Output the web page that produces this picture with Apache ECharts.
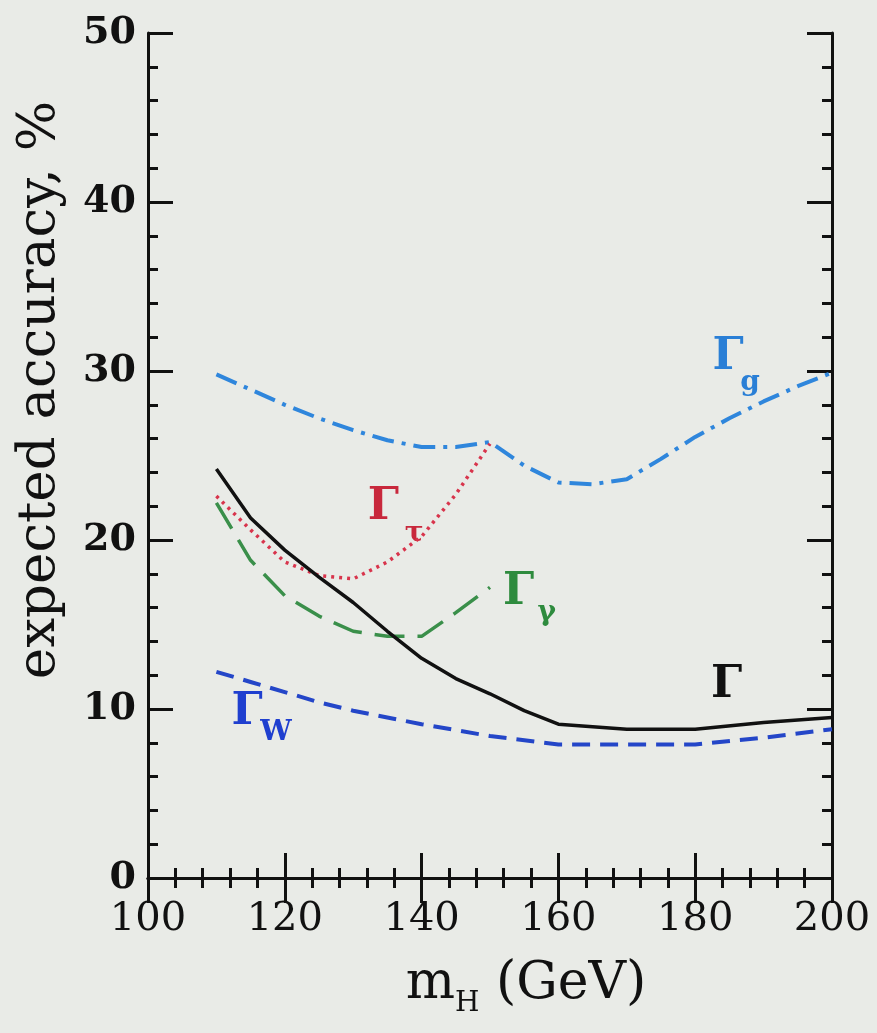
<!DOCTYPE html>
<html>
<head>
<meta charset="utf-8">
<script src="https://cdn.jsdelivr.net/npm/echarts@6/dist/echarts.min.js"></script>
<style>
  html, body { margin: 0; padding: 0; background: #e9ebe7; }
  #chart { width: 877px; height: 1033px; }
</style>
</head>
<body>
<div id="chart"></div>
<script>
// Higgs mass (GeV) and expected accuracy (%)
const massGluon = [110, 115, 120, 125, 130, 135, 140, 145, 150, 155, 160, 165, 170, 175, 180, 185, 190, 195, 200];
const gammaGluon = [29.8, 28.9, 28.0, 27.2, 26.5, 25.9, 25.5, 25.5, 25.8, 24.4, 23.4, 23.3, 23.6, 24.8, 26.1, 27.2, 28.2, 29.1, 29.9];

const massTau = [110, 115, 120, 125, 130, 135, 140, 145, 150];
const gammaTau = [22.6, 20.6, 18.7, 17.9, 17.7, 18.7, 20.2, 22.7, 25.7];

const massPhoton = [110, 115, 120, 125, 130, 135, 140, 145, 150];
const gammaPhoton = [22.2, 18.8, 16.7, 15.5, 14.6, 14.3, 14.3, 15.7, 17.2];

const massTotal = [110, 115, 120, 125, 130, 135, 140, 145, 150, 155, 160, 170, 180, 190, 200];
const gammaTotal = [24.2, 21.3, 19.4, 17.8, 16.3, 14.6, 13.0, 11.8, 10.9, 9.9, 9.1, 8.8, 8.8, 9.2, 9.5];

const massW = [110, 115, 120, 125, 130, 140, 150, 160, 170, 180, 190, 200];
const gammaW = [12.2, 11.6, 11.0, 10.4, 9.9, 9.1, 8.4, 7.9, 7.9, 7.9, 8.3, 8.8];

// curve labels: text, x, y (data units), colour, size
const labelText = ['Γ', 'g', 'Γ', 'τ', 'Γ', 'γ', 'Γ', 'Γ', 'W'];
const labelX = [184.8, 188.0, 134.4, 138.9, 154.2, 158.3, 184.6, 114.5, 118.7];
const labelY = [30.8, 29.3, 21.9, 20.4, 16.9, 15.7, 11.4, 9.8, 8.6];
const labelColor = ['#2a7fd6', '#2a7fd6', '#c8283c', '#c8283c', '#2e8b3e', '#2e8b3e', '#111', '#1f3fcf', '#1f3fcf'];
const labelSize = [44, 28, 44, 28, 44, 28, 44, 44, 28];

const font = 'DejaVu Serif';
const pairs = (xs, ys) => xs.map((x, i) => [x, ys[i]]);

var myChart = echarts.init(document.getElementById('chart'));

const tickCommon = {
  axisLine: { show: true, lineStyle: { color: '#111', width: 3 } },
  axisTick: { show: true, inside: true, length: 25, lineStyle: { color: '#111', width: 3 } },
  minorTick: { show: true, splitNumber: 5, length: 10, lineStyle: { color: '#111', width: 3 } },
  splitLine: { show: false },
  minorSplitLine: { show: false }
};

const option = {
  backgroundColor: '#e9ebe7',
  animation: false,
  grid: { left: 148, right: 45, top: 33, bottom: 155 },
  xAxis: [
    Object.assign({
      type: 'value', min: 100, max: 200, interval: 20, position: 'bottom',
      axisLabel: { fontFamily: font, fontSize: 40, color: '#111', margin: 22 }
    }, tickCommon),
    Object.assign({
      type: 'value', min: 100, max: 200, interval: 20, position: 'top',
      axisLabel: { show: false }
    }, tickCommon)
  ],
  yAxis: [
    Object.assign({
      type: 'value', min: 0, max: 50, interval: 10, position: 'left',
      axisLabel: { fontFamily: font, fontSize: 38, fontWeight: 'bold', color: '#111', margin: 12 }
    }, tickCommon),
    Object.assign({
      type: 'value', min: 0, max: 50, interval: 10, position: 'right',
      axisLabel: { show: false }
    }, tickCommon)
  ],
  graphic: [
    {
      type: 'text',
      x: 40, y: 390,
      rotation: Math.PI / 2,
      style: {
        text: 'expected accuracy, %',
        fontFamily: font, fontSize: 53, fill: '#111',
        align: 'center', verticalAlign: 'middle'
      }
    },
    {
      type: 'text',
      x: 526, y: 984,
      style: {
        text: '{m|m}{s|H}{t| (GeV)}',
        align: 'center', verticalAlign: 'middle',
        rich: {
          m: { fontFamily: font, fontSize: 52, fill: '#111' },
          s: { fontFamily: font, fontSize: 28, fill: '#111', padding: [40, 0, 0, 0] },
          t: { fontFamily: font, fontSize: 52, fill: '#111' }
        }
      }
    }
  ],
  series: [
    {
      name: 'Γg', type: 'line', data: pairs(massGluon, gammaGluon),
      showSymbol: false, smooth: false,
      lineStyle: { color: '#2f86dc', width: 4, type: [22, 8, 4, 8] }
    },
    {
      name: 'Γτ', type: 'line', data: pairs(massTau, gammaTau),
      showSymbol: false,
      lineStyle: { color: '#d8344c', width: 3.5, type: [3, 5] }
    },
    {
      name: 'Γγ', type: 'line', data: pairs(massPhoton, gammaPhoton),
      showSymbol: false,
      lineStyle: { color: '#3a8f4a', width: 3.5, type: [30, 13] }
    },
    {
      name: 'Γ', type: 'line', data: pairs(massTotal, gammaTotal),
      showSymbol: false,
      lineStyle: { color: '#111', width: 3.5 }
    },
    {
      name: 'ΓW', type: 'line', data: pairs(massW, gammaW),
      showSymbol: false,
      lineStyle: { color: '#2446c8', width: 4, type: [18, 10] }
    },
    {
      name: 'labels', type: 'scatter', symbolSize: 0, silent: true,
      itemStyle: { opacity: 1 },
      data: labelText.map((t, i) => ({
        value: [labelX[i], labelY[i]],
        label: {
          show: true, position: 'inside', formatter: t, opacity: 1,
          fontFamily: font, fontWeight: 'bold',
          fontSize: labelSize[i], color: labelColor[i]
        }
      }))
    }
  ]
};

myChart.setOption(option);
</script>
</body>
</html>
